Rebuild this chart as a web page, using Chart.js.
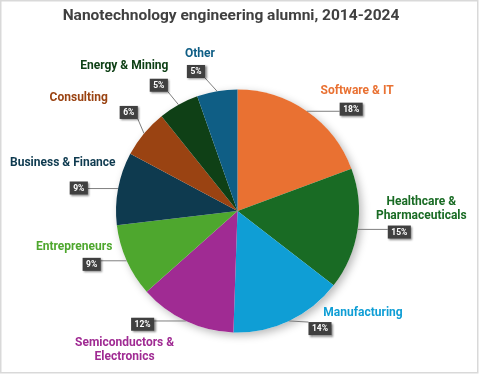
<!DOCTYPE html>
<html>
<head>
<meta charset="utf-8">
<script src="https://cdn.jsdelivr.net/npm/chart.js@4"></script>
<style>
  html, body { margin: 0; padding: 0; background: #fff; }
  #wrap { width: 480px; height: 374px; }
</style>
</head>
<body>
<div id="wrap"><canvas id="pieChart" width="480" height="374"></canvas></div>
<script>
const chartTitle = 'Nanotechnology engineering alumni, 2014-2024';
const categories = [
  ['Software & IT'],
  ['Healthcare &', 'Pharmaceuticals'],
  ['Manufacturing'],
  ['Semiconductors &', 'Electronics'],
  ['Entrepreneurs'],
  ['Business & Finance'],
  ['Consulting'],
  ['Energy & Mining'],
  ['Other']
];
const shares = [18, 15, 14, 12, 9, 9, 6, 5, 5];
const sliceColors = ['#E97132', '#196B24', '#0F9ED5', '#A02B93', '#4EA72E', '#0E3A4F', '#9A4312', '#0F4016', '#0F5E85'];

// hand-tuned label placement, like the dragged labels in the original:
// da = angle shift from slice middle (deg), k = box distance (x radius), tx/ty = text offset from box
const labelLayout = [
  { da: 13.3, k: 1.256, tx: 6, ty: -18 },
  { da: -1.3, k: 1.343, tx: 22, ty: -23 },
  { da: -9.9, k: 1.182, tx: 43, ty: -16 },
  { da: 14.8, k: 1.216, tx: -18, ty: 26 },
  { da: 4.1, k: 1.278, tx: -17.5, ty: -17.7 },
  { da: -2.4, k: 1.32, tx: -16, ty: -24.7 },
  { da: 2.5, k: 1.208, tx: -50, ty: -14.5 },
  { da: -3, k: 1.221, tx: -34.5, ty: -18.8 },
  { da: -6.9, k: 1.198, tx: 4, ty: -17.6 }
];

const FONT = 'Roboto, "Liberation Sans", sans-serif';

const decorPlugin = {
  id: 'decor',
  beforeDraw(chart) {
    const ctx = chart.ctx;
    ctx.save();
    ctx.fillStyle = '#fff';
    ctx.fillRect(0, 0, chart.width, chart.height);
    ctx.strokeStyle = '#d9d9d9';
    ctx.lineWidth = 1.5;
    ctx.strokeRect(0.75, 0.75, 477, 372);
    ctx.fillStyle = '#404040';
    ctx.font = 'bold 15.5px ' + FONT;
    ctx.textAlign = 'center';
    ctx.textBaseline = 'alphabetic';
    ctx.fillText(chartTitle, 231, 20);
    ctx.restore();
  },
  beforeDatasetsDraw(chart) {
    // soft shadow under the whole pie
    const arc = chart.getDatasetMeta(0).data[0];
    if (!arc) return;
    const ctx = chart.ctx;
    ctx.save();
    ctx.shadowColor = 'rgba(0,0,0,0.28)';
    ctx.shadowBlur = 8;
    ctx.shadowOffsetX = 3;
    ctx.shadowOffsetY = 3;
    ctx.fillStyle = '#fff';
    ctx.beginPath();
    ctx.arc(arc.x, arc.y, arc.outerRadius, 0, Math.PI * 2);
    ctx.fill();
    ctx.restore();
  },
  afterDatasetsDraw(chart) {
    const ctx = chart.ctx;
    const meta = chart.getDatasetMeta(0);
    meta.data.forEach((el, i) => {
      const lay = labelLayout[i];
      const mid = (el.startAngle + el.endAngle) / 2;
      const r = el.outerRadius;
      const ax = el.x + Math.cos(mid) * r;
      const ay = el.y + Math.sin(mid) * r;
      const a2 = mid + lay.da * Math.PI / 180;
      const bx = el.x + Math.cos(a2) * r * lay.k;
      const by = el.y + Math.sin(a2) * r * lay.k;

      ctx.save();
      ctx.font = 'bold 8.5px ' + FONT;
      const txt = shares[i] + '%';
      const w = ctx.measureText(txt).width + 7;
      const h = 13;
      const x0 = bx - w / 2, y0 = by - h / 2;

      // leader line to the nearest point of the box
      const lx = Math.min(Math.max(ax, x0), x0 + w);
      const ly = Math.min(Math.max(ay, y0), y0 + h);
      ctx.strokeStyle = '#7f7f7f';
      ctx.lineWidth = 1;
      ctx.beginPath();
      ctx.moveTo(ax, ay);
      ctx.lineTo(lx, ly);
      ctx.stroke();

      ctx.shadowColor = 'rgba(0,0,0,0.45)';
      ctx.shadowBlur = 2;
      ctx.shadowOffsetX = 1.5;
      ctx.shadowOffsetY = 1.5;
      ctx.fillStyle = '#404040';
      ctx.fillRect(x0, y0, w, h);
      ctx.shadowColor = 'transparent';
      ctx.fillStyle = '#fff';
      ctx.textAlign = 'center';
      ctx.textBaseline = 'middle';
      ctx.fillText(txt, bx, by + 0.5);

      // category name in slice colour
      const lines = chart.data.labels[i];
      const lh = 14;
      ctx.font = 'bold 12px ' + FONT;
      ctx.fillStyle = sliceColors[i];
      const cy = by + lay.ty - (lines.length - 1) * lh / 2;
      lines.forEach((ln, j) => ctx.fillText(ln, bx + lay.tx, cy + j * lh));
      ctx.restore();
    });
  }
};

new Chart(document.getElementById('pieChart'), {
  type: 'pie',
  data: {
    labels: categories,
    datasets: [{
      data: shares,
      backgroundColor: sliceColors,
      borderWidth: 0
    }]
  },
  options: {
    responsive: false,
    animation: false,
    layout: { padding: { top: 89, bottom: 41, left: 116, right: 121 } },
    plugins: {
      legend: { display: false },
      tooltip: { enabled: false },
      title: { display: false }
    }
  },
  plugins: [decorPlugin]
});
</script>
</body>
</html>
